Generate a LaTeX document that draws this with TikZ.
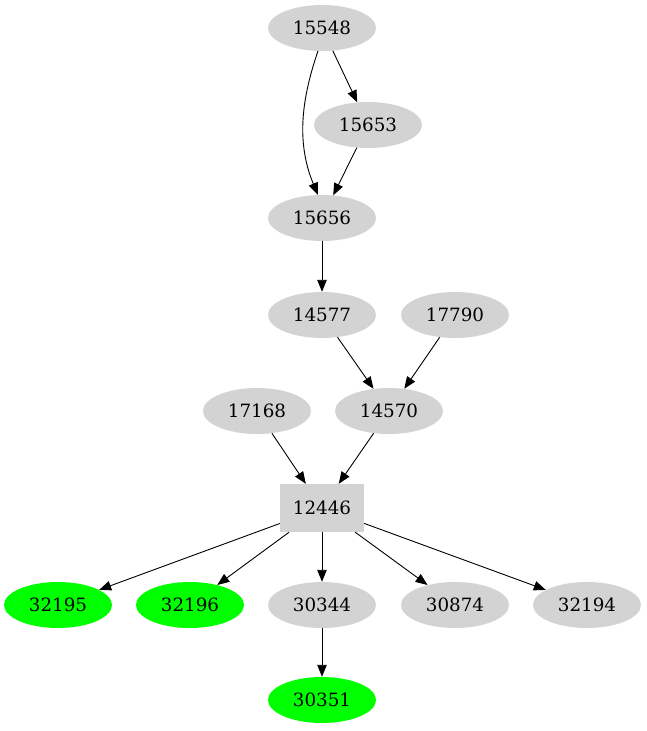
\documentclass[tikz,border=0pt]{standalone}
\usepackage{fontspec}
\setmainfont{DejaVu Serif}
\usetikzlibrary{arrows.meta,shapes.geometric}
\definecolor{gv}{HTML}{D3D3D3}
\definecolor{gr}{HTML}{00FF00}
\begin{document}
\begin{tikzpicture}[x=1pt,y=-1pt,
  el/.style={ellipse,fill=gv,minimum width=108pt,minimum height=46pt,inner sep=0pt,font=\fontsize{18.3}{20}\selectfont},
  gel/.style={el,fill=gr},
  bx/.style={rectangle,fill=gv,minimum width=84pt,minimum height=48pt,inner sep=0pt,font=\fontsize{18.3}{20}\selectfont},
  ed/.style={draw,line width=0.9pt,-{Triangle[length=12pt,width=9.5pt]}}]
\useasboundingbox (0,0) rectangle (646,731);
\node[el] (a) at (322,28) {15548};
\node[el] (b) at (368,125) {15653};
\node[el] (c) at (322,218) {15656};
\node[el] (d) at (322,315) {14577};
\node[el] (e) at (455,315) {17790};
\node[el] (f) at (257,411) {17168};
\node[el] (g) at (389,411) {14570};
\node[bx] (h) at (322,508) {12446};
\node[gel] (i) at (58,605) {32195};
\node[gel] (j) at (190,605) {32196};
\node[el] (k) at (322,605) {30344};
\node[el] (l) at (455,605) {30874};
\node[el] (m) at (587,605) {32194};
\node[gel] (n) at (322,700) {30351};
\draw[ed] (a.-100) .. controls (303,95) and (295,140) .. (c.100);
\draw[ed] (a) -- (b);
\draw[ed] (b) -- (c);
\draw[ed] (c) -- (d);
\draw[ed] (d) -- (g);
\draw[ed] (e) -- (g);
\draw[ed] (f) -- (h);
\draw[ed] (g) -- (h);
\draw[ed] (h) -- (i);
\draw[ed] (h) -- (j);
\draw[ed] (h) -- (k);
\draw[ed] (h) -- (l);
\draw[ed] (h) -- (m);
\draw[ed] (k) -- (n);
\end{tikzpicture}
\end{document}
